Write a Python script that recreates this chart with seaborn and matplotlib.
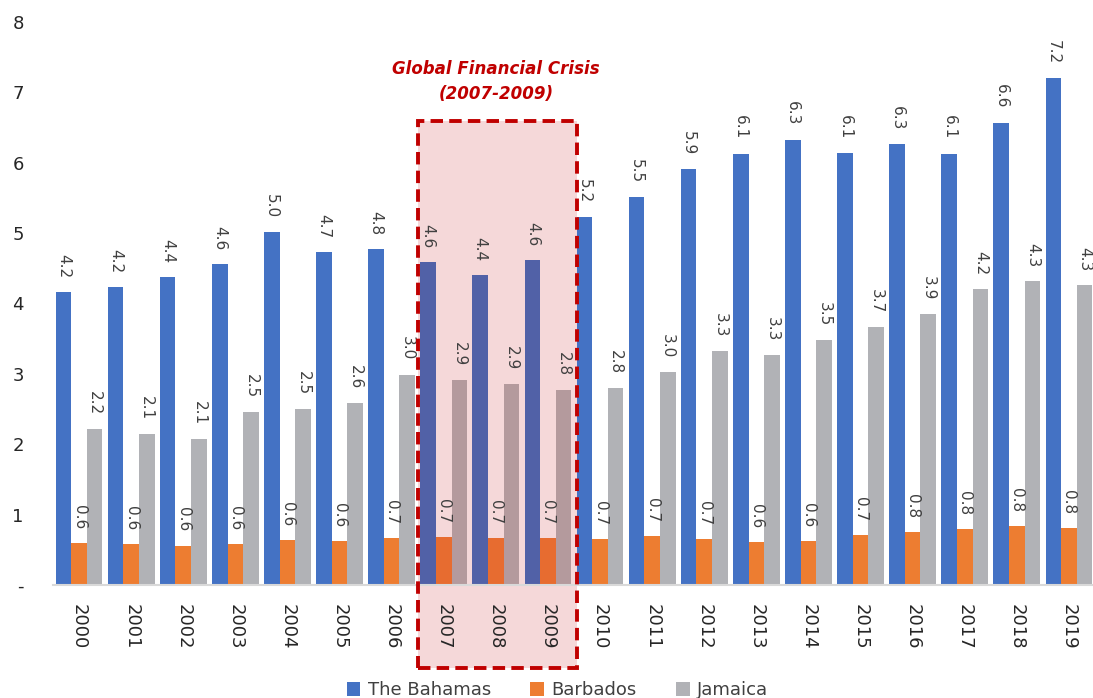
import matplotlib
matplotlib.use("Agg")
import matplotlib.pyplot as plt
from matplotlib.patches import Rectangle
from matplotlib.ticker import FixedLocator
import seaborn as sns
import pandas as pd

years = [str(y) for y in range(2000, 2020)]
bahamas = [4.16, 4.23, 4.38, 4.56, 5.02, 4.73, 4.77, 4.59, 4.41, 4.62,
           5.23, 5.51, 5.91, 6.13, 6.33, 6.14, 6.26, 6.13, 6.57, 7.21]
barbados = [0.59, 0.58, 0.56, 0.58, 0.64, 0.63, 0.67, 0.68, 0.67, 0.67,
            0.66, 0.70, 0.66, 0.61, 0.63, 0.71, 0.76, 0.80, 0.84, 0.81]
jamaica = [2.22, 2.15, 2.08, 2.46, 2.50, 2.58, 2.99, 2.91, 2.86, 2.77,
           2.80, 3.03, 3.32, 3.27, 3.48, 3.66, 3.85, 4.21, 4.32, 4.26]
countries = ["The Bahamas", "Barbados", "Jamaica"]
colors = ["#4472C4", "#ED7D31", "#B1B2B6"]
# same series seen through the pink crisis box
crisis_colors = ["#5161A7", "#E76C30", "#B49A9D"]
crisis_years = ["2007", "2008", "2009"]

df = pd.DataFrame({
    "year": years * 3,
    "value": bahamas + barbados + jamaica,
    "country": [c for c in countries for _ in years],
})

sns.set_style("white")
plt.rcParams["font.family"] = ["DejaVu Sans"]

fig = plt.figure(figsize=(10.93, 6.98), dpi=100)
ax = fig.add_axes([53 / 1093, 1 - 585 / 698, 1042 / 1093, (585 - 22) / 698])

sns.barplot(data=df, x="year", y="value", hue="country", palette=colors,
            width=0.9, saturation=1, linewidth=0, ax=ax, zorder=2)

ax.set_ylim(0, 8)
ax.set_xlim(-0.5, len(years) - 0.5)
ax.set_yticks(range(0, 9))
ax.set_yticklabels(["-"] + [str(i) for i in range(1, 9)])
ax.tick_params(axis="y", length=0, pad=21, labelsize=13, labelcolor="#262626")
ax.tick_params(axis="x", which="major", length=0, pad=14, labelsize=13,
               labelcolor="#262626", labelrotation=-90)
ax.xaxis.set_minor_locator(FixedLocator([i - 0.5 for i in range(len(years) + 1)]))
ax.tick_params(axis="x", which="minor", length=8, width=1.5, color="#d9d9d9")
ax.set_xlabel("")
ax.set_ylabel("")
for s in ["top", "right", "left"]:
    ax.spines[s].set_visible(False)
ax.spines["bottom"].set_color("#d9d9d9")
ax.spines["bottom"].set_linewidth(1.5)

# value labels
for cont, vals in zip(ax.containers, [bahamas, barbados, jamaica]):
    ax.bar_label(cont, labels=[f"{v:.1f}" for v in vals], padding=10,
                 rotation=-90, fontsize=11, color="#404040")

# crisis highlight
first = years.index(crisis_years[0])
last = years.index(crisis_years[-1])
for cont, cc in zip(ax.containers, crisis_colors):
    for i, bar in enumerate(cont):
        if first <= i <= last:
            bar.set_facecolor(cc)

x0 = first - 0.5
x1 = last + 0.5
ax.add_patch(Rectangle((x0, -1.18), x1 - x0 + 0.05, 6.6 + 1.18,
                       facecolor="#F5D8D9", edgecolor="none",
                       zorder=0, clip_on=False))
ax.add_patch(Rectangle((x0, -1.18), x1 - x0 + 0.05, 6.6 + 1.18,
                       facecolor="none", edgecolor="#C00000", linewidth=2.8,
                       linestyle=(0, (3.2, 1.6)), zorder=5, clip_on=False))
ax.text((x0 + x1) / 2, 7.15, "Global Financial Crisis\n(2007-2009)",
        ha="center", va="center", color="#C00000", fontsize=12,
        fontweight="bold", fontstyle="italic", linespacing=1.5)

handles, labels = ax.get_legend_handles_labels()
ax.get_legend().remove()
fig.legend(handles, labels, loc="lower center", bbox_to_anchor=(0.51, -0.025),
           ncol=3, frameon=False, fontsize=13, handlelength=0.75,
           handleheight=0.75, handletextpad=0.4, columnspacing=2.2,
           labelcolor="#404040")

fig.savefig("out.png", dpi=100)
